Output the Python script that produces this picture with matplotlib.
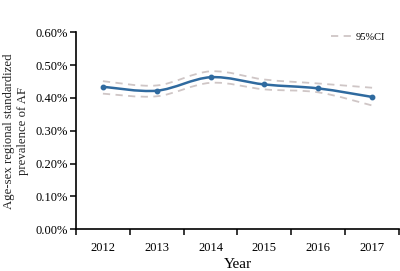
import matplotlib

matplotlib.use("Agg")
import matplotlib.pyplot as plt
from matplotlib.path import Path
from matplotlib.patches import PathPatch
from matplotlib.lines import Line2D

plt.rcParams["font.family"] = ["Liberation Serif", "DejaVu Serif"]

years = ["2012", "2013", "2014", "2015", "2016", "2017"]
prevalence = [0.434, 0.422, 0.463, 0.441, 0.429, 0.403]
ci_upper = [0.451, 0.438, 0.481, 0.456, 0.444, 0.431]
ci_lower = [0.413, 0.405, 0.446, 0.426, 0.417, 0.377]
y_ticks = [0.0, 0.1, 0.2, 0.3, 0.4, 0.5, 0.6]

LINE_COLOR = "#2f6a9f"
CI_COLOR = "#cfc6c6"


def smooth_path(xs, ys, tension=0.5):
    # catmull-rom through the points, written as cubic bezier segments
    verts = [(xs[0], ys[0])]
    codes = [Path.MOVETO]
    n = len(xs)
    for i in range(n - 1):
        x0, y0 = (xs[i - 1], ys[i - 1]) if i > 0 else (xs[i], ys[i])
        x1, y1 = xs[i], ys[i]
        x2, y2 = xs[i + 1], ys[i + 1]
        x3, y3 = (xs[i + 2], ys[i + 2]) if i + 2 < n else (x2, y2)
        c1 = (x1 + (x2 - x0) * tension / 3, y1 + (y2 - y0) * tension / 3)
        c2 = (x2 - (x3 - x1) * tension / 3, y2 - (y3 - y1) * tension / 3)
        verts += [c1, c2, (x2, y2)]
        codes += [Path.CURVE4] * 3
    return Path(verts, codes)


fig = plt.figure(figsize=(4.0, 2.71), dpi=100)
ax = fig.add_axes([0.19, 0.154, 0.8075, 0.727])

x = list(range(len(years)))

for band in (ci_upper, ci_lower):
    ax.add_patch(PathPatch(smooth_path(x, band), fill=False, edgecolor=CI_COLOR,
                           lw=1.3, linestyle=(0, (4, 3))))
ax.add_patch(PathPatch(smooth_path(x, prevalence), fill=False,
                       edgecolor=LINE_COLOR, lw=1.8, capstyle="round"))
ax.plot(x, prevalence, "o", color=LINE_COLOR, ms=3.2)

ax.set_xlim(-0.5, len(years) - 0.5)
ax.set_ylim(0, 0.6)
ax.set_yticks(y_ticks)
ax.set_yticklabels([f"{v:.2f}%" for v in y_ticks], fontsize=9)

ax.set_xticks(x)
ax.set_xticklabels(years, fontsize=9)
ax.set_xticks([i + 0.5 for i in range(-1, len(years))], minor=True)
ax.tick_params(axis="x", which="major", length=0, pad=9)
ax.tick_params(axis="x", which="minor", length=4, width=1.1, direction="out")
ax.tick_params(axis="y", length=4, width=1.1, pad=1.5)

for side in ("top", "right"):
    ax.spines[side].set_visible(False)
for side in ("left", "bottom"):
    ax.spines[side].set_linewidth(1.2)

ax.set_xlabel("Year", fontsize=11, labelpad=3)
ax.set_ylabel("Age-sex regional standardized\nprevalence of AF", fontsize=9.2,
              labelpad=5, color="#222222")

handle = Line2D([], [], color=CI_COLOR, lw=1.3, linestyle=(0, (4, 3)))
ax.legend([handle], ["95%CI"], loc="upper right", bbox_to_anchor=(0.985, 1.045),
          frameon=False, fontsize=7.5, handlelength=2.0, handletextpad=0.3)

fig.savefig("out.png", dpi=100)
plt.close(fig)
